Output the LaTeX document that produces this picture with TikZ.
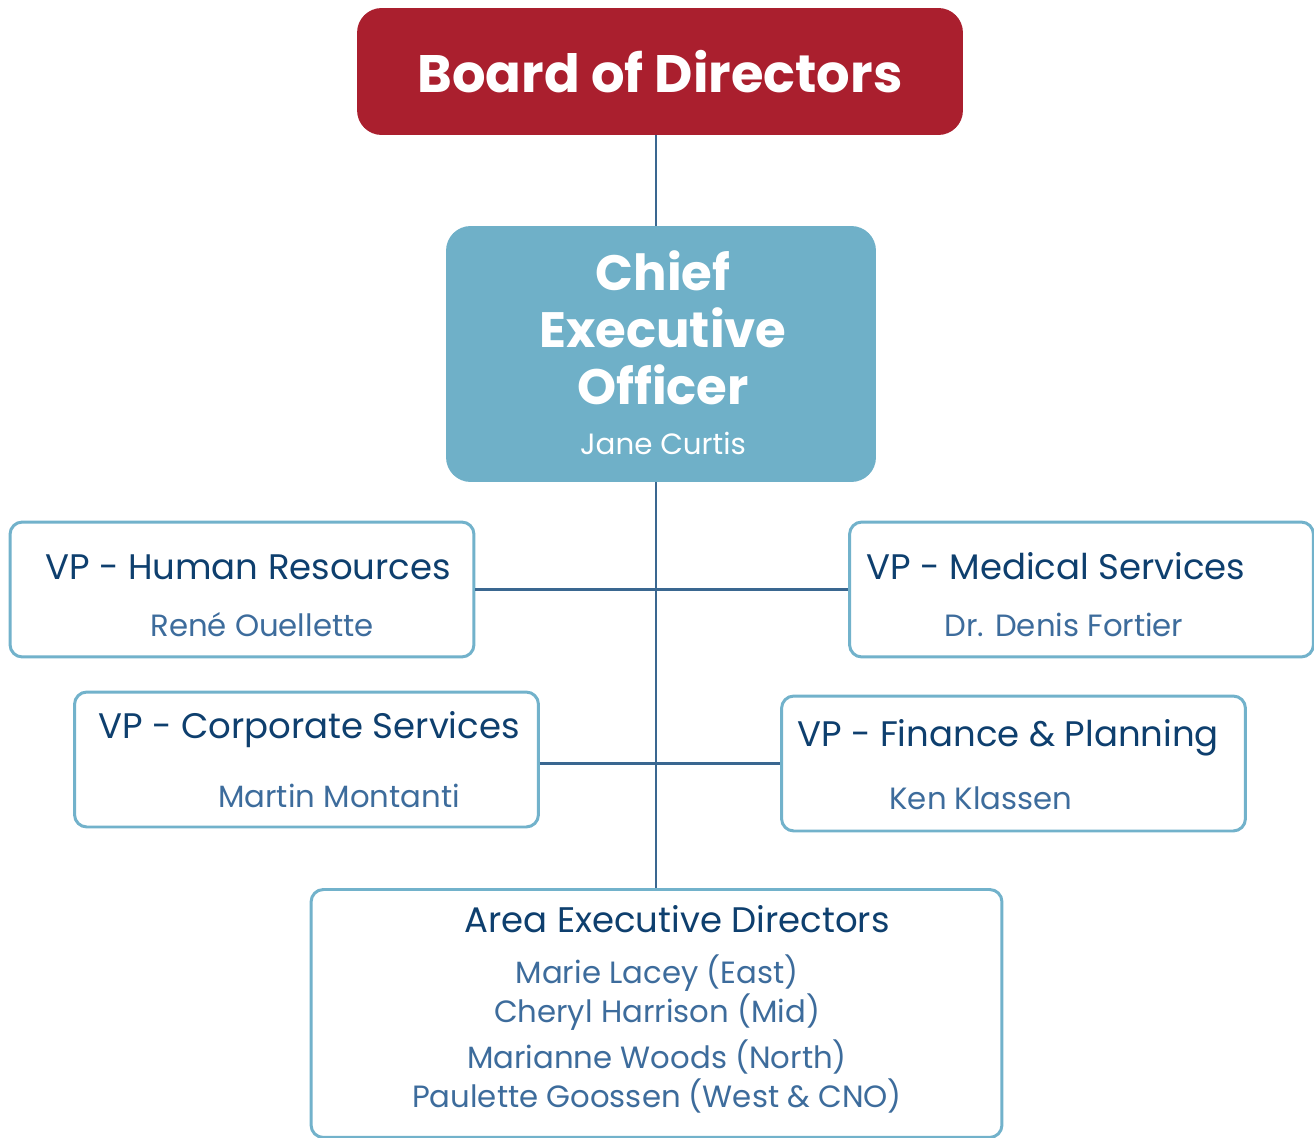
\documentclass[tikz,border=0pt]{standalone}
\usepackage{fontspec}
\setmainfont{Poppins}
\usetikzlibrary{positioning}

\definecolor{board}{HTML}{AA1F2E}
\definecolor{ceo}{HTML}{6FB0C8}
\definecolor{frame}{HTML}{72B2CB}
\definecolor{navy}{HTML}{0E3F6E}
\definecolor{who}{HTML}{3D6C9C}
\definecolor{link}{HTML}{3A6790}

\tikzset{
  vpbox/.style={draw=frame,line width=1.7pt,fill=white,rounded corners=7pt,
    minimum width=9.28cm,minimum height=2.7cm},
  vptitle/.style={text=navy,font=\fontsize{20.2}{24}\selectfont,inner sep=0pt},
  vpname/.style={text=who,font=\fontsize{17.5}{20}\selectfont,inner sep=0pt},
  link/.style={draw=link,line width=1.2pt}
}

\begin{document}
\begin{tikzpicture}[x=0.02cm,y=-0.02cm]
   \useasboundingbox (0,0) rectangle (1314,1138);
   \clip (0,0) rectangle (1314,1138);
   % top of the chart
   \node[fill=board,rounded corners=14pt,minimum width=12.12cm,minimum height=2.54cm,
     text=white,font=\bfseries\fontsize{30}{34}\selectfont] (bod) at (660,71.5) {Board of Directors};
   \node[fill=ceo,rounded corners=14pt,minimum width=8.6cm,minimum height=5.12cm] (ceo) at (661,354) {};
   \node[text=white,font=\bfseries\fontsize{28.3}{32.3}\selectfont,align=center,inner sep=0pt]
     (ceot) at (663,328) {Chief\\Executive\\Officer};
   \node[text=white,font=\fontsize{16.7}{19}\selectfont,inner sep=0pt] (ceon) at (663,443) {Jane Curtis};
   % vice presidents
   \node[vpbox] (hr) at (242,589.5) {};
   \node[vptitle] at (248,567) {VP - Human Resources};
   \node[vpname] at (262,625) {René Ouellette};
   \node[vpbox] (med) at (1081.5,589.5) {};
   \node[vptitle] at (1056,566) {VP - Medical Services};
   \node[vpname] at (1064,625) {Dr. Denis Fortier};
   \node[vpbox] (corp) at (306.5,759.5) {};
   \node[vptitle] at (309,730) {VP - Corporate Services};
   \node[vpname] at (339,796) {Martin Montanti};
   \node[vpbox] (fin) at (1013.5,763.5) {};
   \node[vptitle] at (1008,738) {VP - Finance \& Planning};
   \node[vpname] at (981,798) {Ken Klassen};
   % area directors
   \node[vpbox,minimum width=13.82cm,minimum height=4.96cm,anchor=north] (area) at (656.5,888) {};
   \node[vptitle] at (677,919) {Area Executive Directors};
   \node[vpname] at (657,973) {Marie Lacey (East)};
   \node[vpname] at (657,1012) {Cheryl Harrison (Mid)};
   \node[vpname] at (657,1057) {Marianne Woods (North)};
   \node[vpname] at (657,1096) {Paulette Goossen (West \& CNO)};
   % reporting lines
   \draw[link] (bod.south -| 656,0) -- (ceo.north -| 656,0);
   \draw[link] (ceo.south -| 656,0) -- (area.north -| 656,0);
   \draw[link] (hr.east) -- (med.west);
   \draw[link] (corp.east |- fin.west) -- (fin.west);
\end{tikzpicture}
\end{document}
